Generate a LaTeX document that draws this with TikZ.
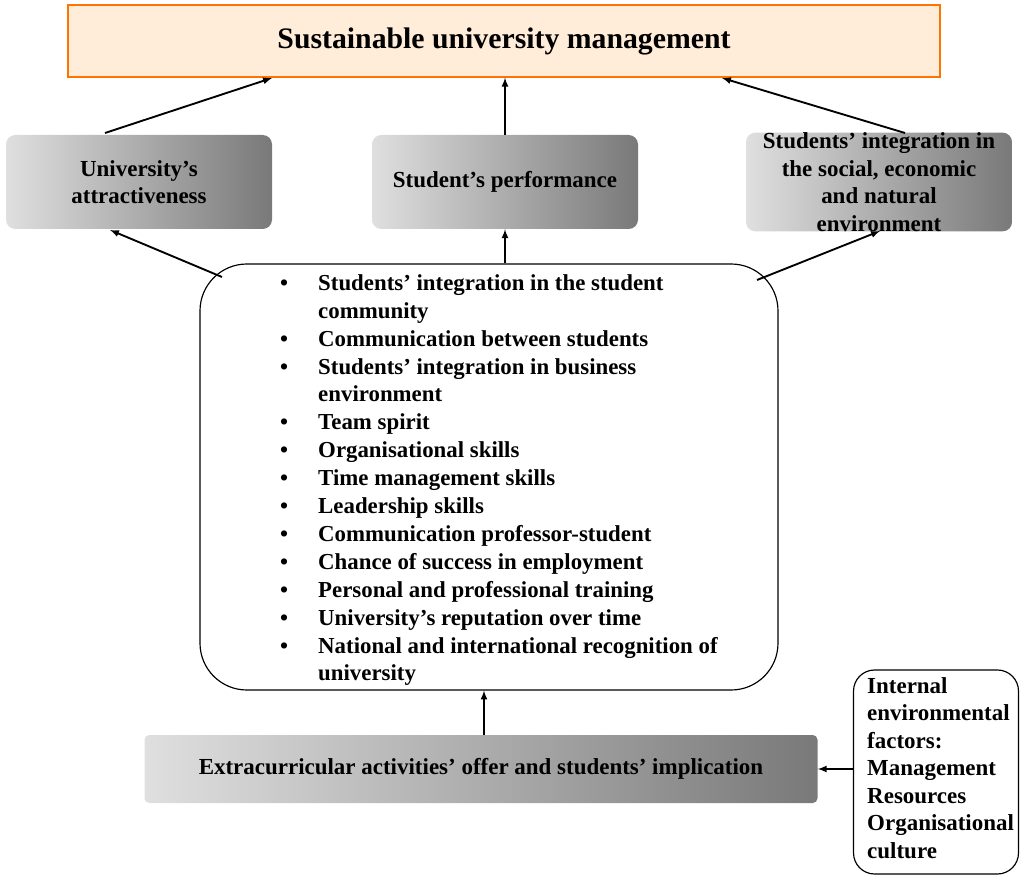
\documentclass[tikz,border=0pt]{standalone}
\usepackage{fontspec}
\setmainfont{Liberation Serif}
\begin{document}
\begin{tikzpicture}[x=0.03cm,y=-0.03cm,
 gbox/.style={rounded corners=8pt,left color=gray!25,right color=gray!95!black,draw=none,font=\bfseries\fontsize{19.6}{23.5}\selectfont,align=center},
 arr/.style={-latex,line width=1.6pt},
 li/.style={anchor=west,font=\bfseries\fontsize{19.5}{23}\selectfont,inner sep=0}]
\useasboundingbox (0,0) rectangle (1024,880);
\node[draw=orange!90!red,line width=1.2pt,fill=orange!15,minimum width=872*0.03cm,minimum height=72*0.03cm,font=\bfseries\fontsize{25.4}{30}\selectfont] (t) at (504,41) {Sustainable university management};
\node[gbox,minimum width=266*0.03cm,minimum height=94*0.03cm] (a) at (139,182) {University's\\attractiveness};
\node[gbox,minimum width=266*0.03cm,minimum height=94*0.03cm] (p) at (505,182) {Student's performance};
\node[gbox,minimum width=266*0.03cm,minimum height=94*0.03cm,inner sep=0] (s) at (879,182) {Students' integration in\\the social, economic\\and natural\\environment};
\node[draw,line width=1pt,rounded corners=40pt,minimum width=578*0.03cm,minimum height=426*0.03cm] (c) at (489,477) {};
\node[gbox,rounded corners=4pt,minimum width=673*0.03cm,minimum height=68*0.03cm] (e) at (481,769) {Extracurricular activities' offer and students' implication};
\node[draw,line width=1pt,rounded corners=18pt,minimum width=165*0.03cm,minimum height=204*0.03cm] (f) at (936,772) {};
\node[anchor=north west,align=left,font=\bfseries\fontsize{19.6}{23.5}\selectfont,inner sep=0] (ft) at (867,677) {Internal\\environmental\\factors:\\Management\\Resources\\Organisational\\culture};
\foreach \i/\b/\t in {0/1/Students' integration in the student,1/0/community,2/1/Communication between students,3/1/Students' integration in business,4/0/environment,5/1/Team spirit,6/1/Organisational skills,7/1/Time management skills,8/1/Leadership skills,9/1/Communication professor-student,10/1/Chance of success in employment,11/1/Personal and professional training,12/1/University's reputation over time,13/1/National and international recognition of,14/0/university}{
 \node[li] (l\i) at (318,285+27.9*\i) {\strut\t};
 \ifnum\b=1 \node[li] (b\i) at (280,285+27.9*\i) {\strut\textbullet};\fi
}
\coordinate (a1) at (105,133); \coordinate (s1) at (905,133);
\coordinate (c1) at (222,277); \coordinate (c3) at (757,280);
\coordinate (t1) at (272,78); \coordinate (t3) at (722,78);
\coordinate (a2) at (110,230); \coordinate (s2) at (880,231);
\draw[arr] (a1) -- (t1);
\draw[arr] (p.north) -- (p.north |- t.south);
\draw[arr] (s1) -- (t3);
\draw[arr] (c1) -- (a2);
\draw[arr] (c.north -| p.south) -- (p.south);
\draw[arr] (c3) -- (s2);
\draw[arr] (e.north -| 484,0) -- (c.south -| 484,0);
\draw[arr] (f.west |- e.east) -- (e.east);
\end{tikzpicture}
\end{document}
